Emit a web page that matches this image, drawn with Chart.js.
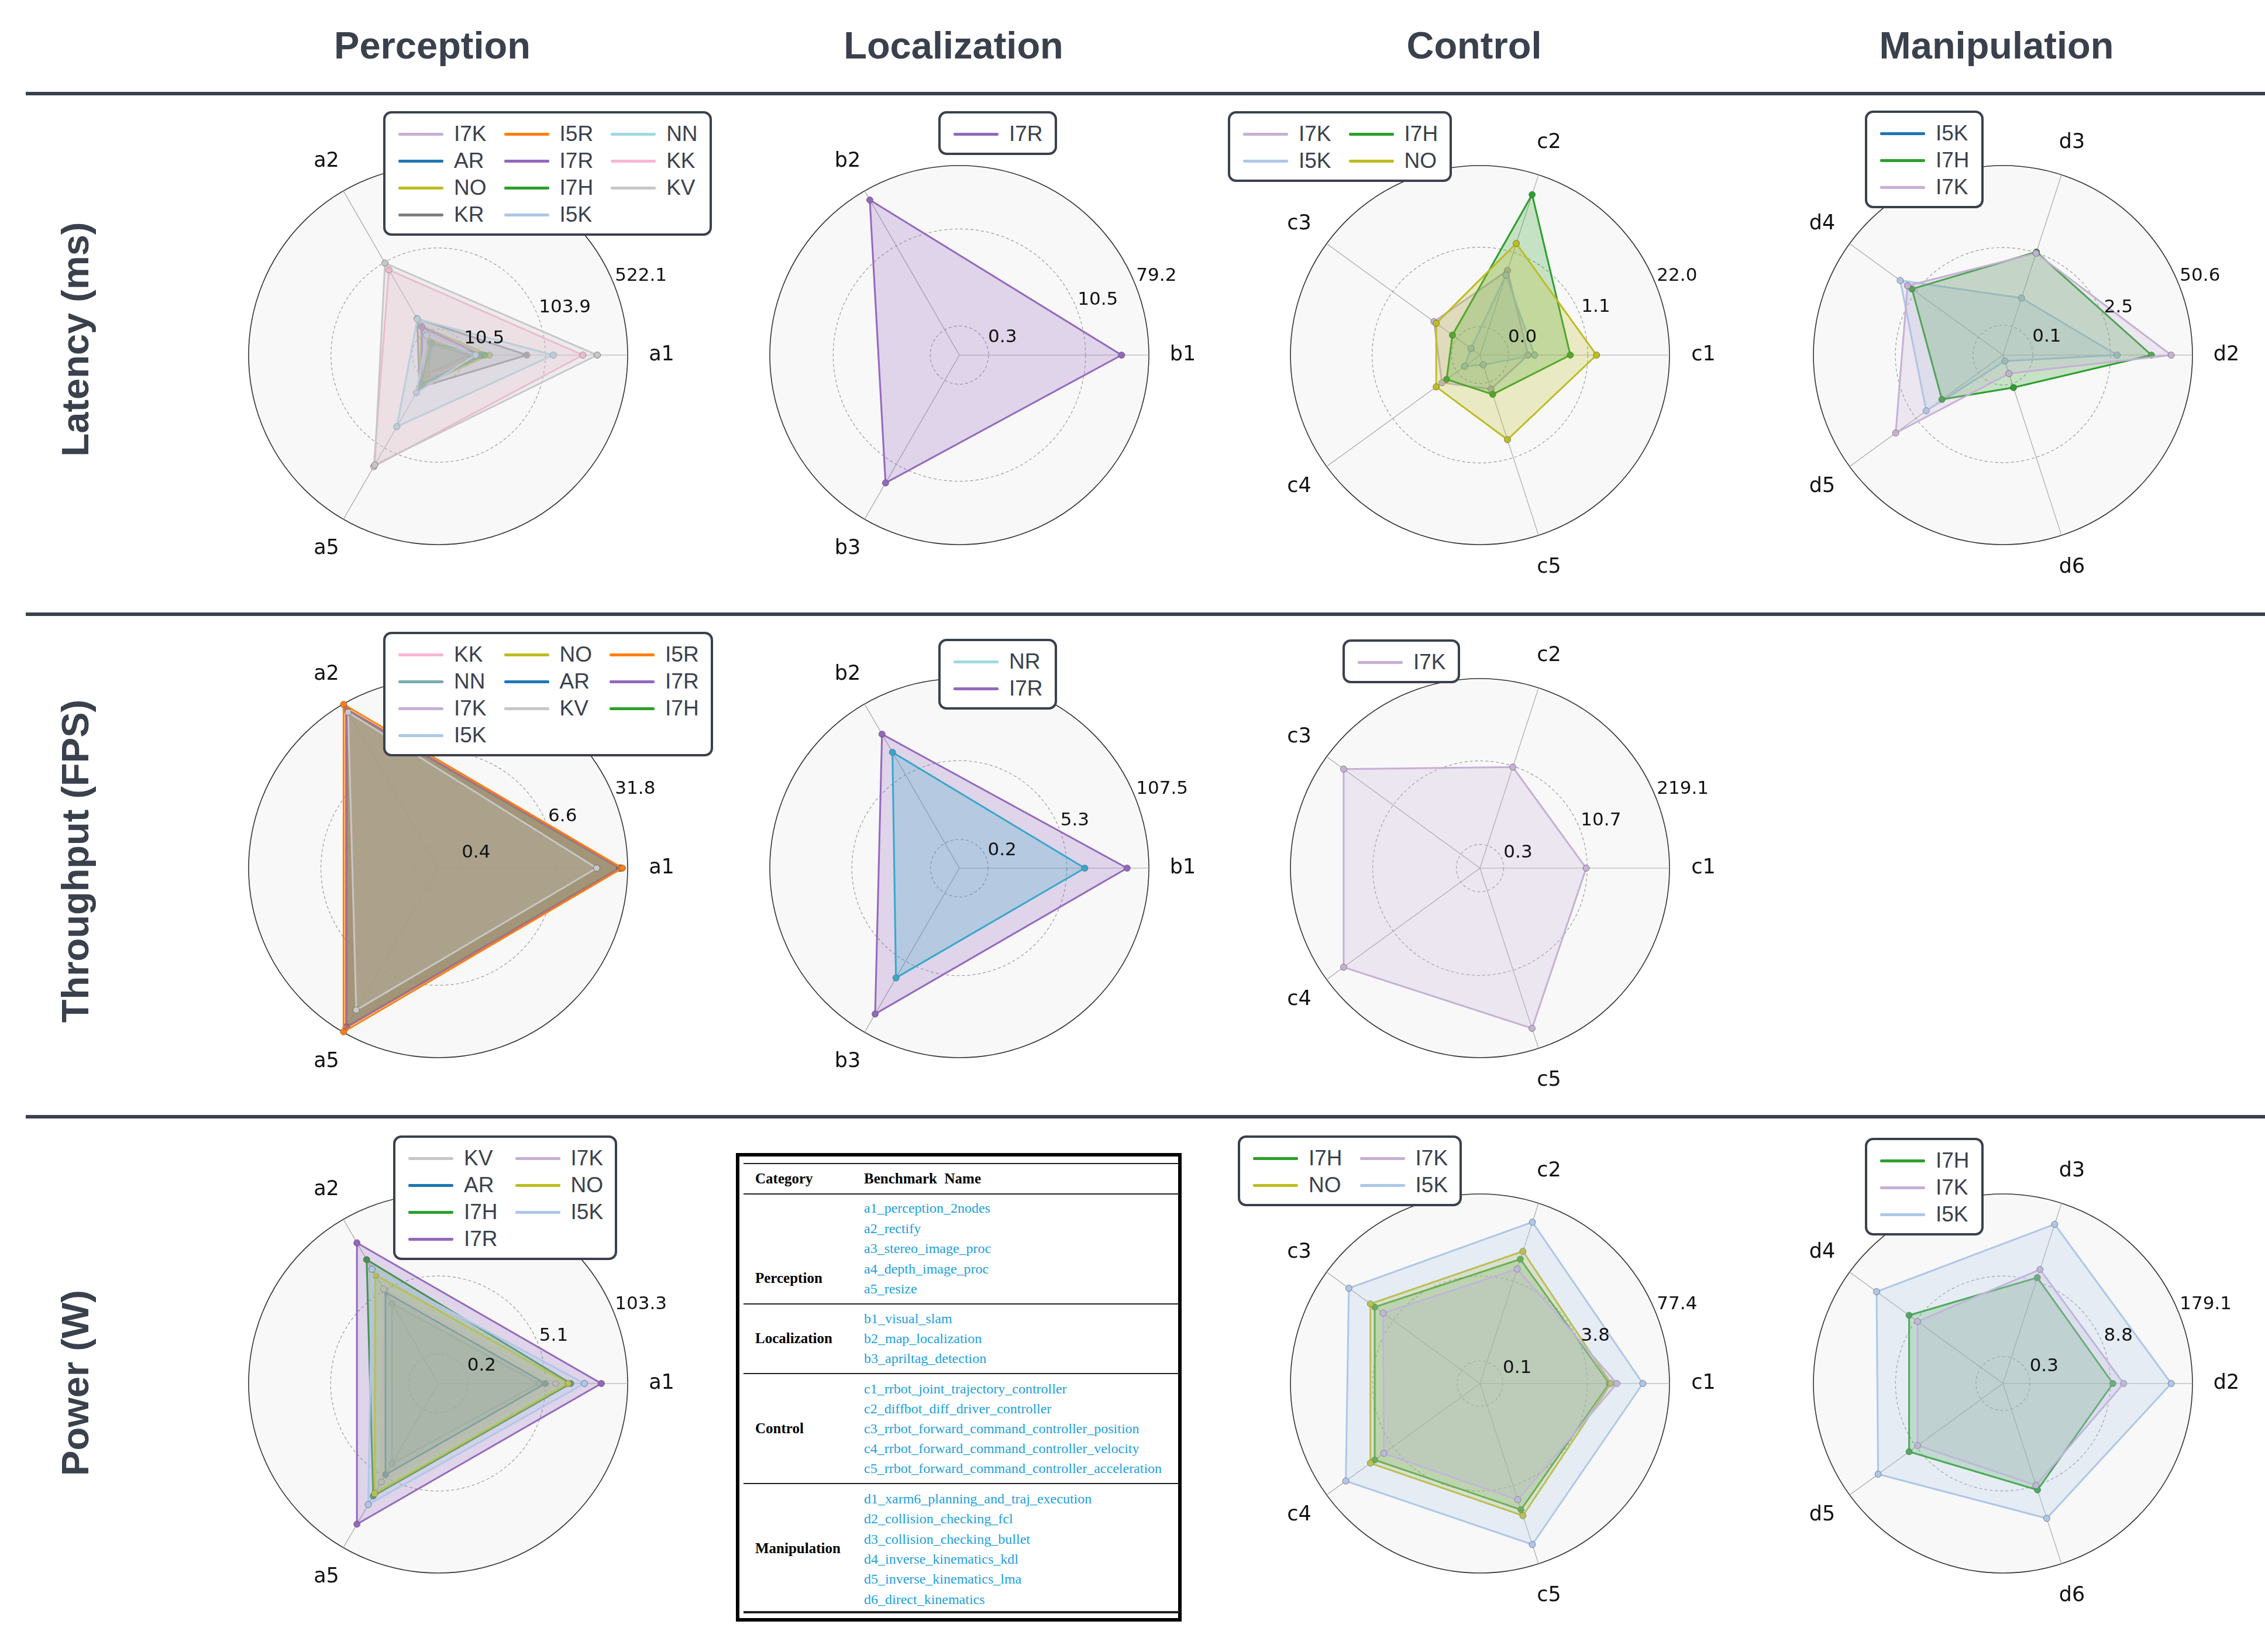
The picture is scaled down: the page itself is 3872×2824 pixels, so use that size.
<!DOCTYPE html>
<html>
<head>
<meta charset="utf-8">
<script src="https://cdn.jsdelivr.net/npm/chart.js@4.4.1/dist/chart.umd.min.js"></script>
<style>
  html, body { margin: 0; padding: 0; background: #fff; }
  #page { position: relative; width: 3872px; height: 2824px; overflow: hidden; background: #fff; }
  .colhead { position: absolute; top: 77px; transform: translate(-50%, -50%); font: bold 65px "Liberation Sans", Arial, sans-serif; color: #3a414d; white-space: nowrap; }
  .rowhead { position: absolute; left: 128px; transform: translate(-50%, -50%) rotate(-90deg); font: bold 65px "Liberation Sans", Arial, sans-serif; color: #3a414d; white-space: nowrap; }
  .rule { position: absolute; left: 44px; width: 3828px; height: 6px; background: #3a414d; }
  canvas.radar { position: absolute; }
  .legend { position: absolute; z-index: 5; background: #fff; border: 4px solid #3a414d; border-radius: 14px;
            padding: 12px 20px 9px 22px; display: flex; flex-direction: row; gap: 30px; align-items: flex-start; }
  .legend .lcol { display: flex; flex-direction: column; }
  .legend .item { display: flex; align-items: center; height: 46px; font: 37px "Liberation Sans", Arial, sans-serif; color: #3a414d; }
  .legend .swatch { width: 77px; height: 5px; border-radius: 2px; margin-right: 18px; }
  .tbl-box { position: absolute; left: 1258px; top: 1971px; width: 762px; height: 801px; border: 6px solid #000; box-sizing: border-box; }
  .tbl-rule { position: absolute; left: 1271px; width: 745px; background: #222; }
  .tbl-text { position: absolute; height: 34px; line-height: 34px; font-family: "Liberation Serif", "Times New Roman", serif; white-space: nowrap; }
  .tbl-head { font-weight: bold; font-size: 25px; color: #000; }
  .tbl-cat { font-weight: bold; font-size: 25px; color: #000; }
  .tbl-name { font-size: 24px; color: #1b9fe0; }
</style>
</head>
<body>
<div id="page"></div>
<script>
// ---------- benchmark axes ----------
const perceptionAxes   = ['a1', 'a2', 'a5'];
const localizationAxes = ['b1', 'b2', 'b3'];
const controlAxes      = ['c1', 'c2', 'c3', 'c4', 'c5'];
const manipulationAxes = ['d2', 'd3', 'd4', 'd5', 'd6'];

// ---------- Latency (ms) ----------
const latPerceptionSeries = ['I7K', 'AR', 'NO', 'KR', 'I5R', 'I7R', 'I7H', 'I5K', 'NN', 'KK', 'KV'];
const latPerceptionValues = [
  [14.7, 7.1, 12.9],
  [13.1, 4.4, 8.4],
  [26.7, 14.7, 16.0],
  [69.4, 19.9, 16.8],
  [19.0, 6.5, 8.9],
  [21.0, 13.9, 13.9],
  [23.0, 5.1, 15.0],
  [16.9, 8.9, 20.9],
  [123.0, 19.6, 60.4],
  [222.0, 86.0, 162.0],
  [294.0, 102.0, 156.0]
];
const latPerceptionTicks = [10.5, 103.9, 522.1];

const latLocalizationSeries = ['I7R'];
const latLocalizationValues = [[33.3, 56.9, 20.9]];
const latLocalizationTicks = [0.3, 10.5, 79.2];

const latControlSeries = ['I7K', 'I5K', 'I7H', 'NO'];
const latControlValues = [
  [0.105, 0.54, 0.153, 0.10, 0.059],
  [0.139, 0.45, 0.011, 0.022, 0.010],
  [0.57, 10.3, 0.054, 0.077, 0.077],
  [1.52, 1.57, 0.136, 0.136, 0.54]
];
const latControlTicks = [0.04, 1.1, 22.0];

const latManipulationSeries = ['I5K', 'I7H', 'I7K'];
const latManipulationValues = [
  [3.2, 0.40, 5.13, 1.55, 0.013],
  [11.3, 2.58, 3.0, 0.74, 0.125],
  [23.3, 2.46, 3.67, 6.3, 0.052]
];
const latManipulationTicks = [0.1, 2.5, 50.6];

// ---------- Throughput (FPS) ----------
const thrPerceptionSeries = ['KK', 'NN', 'I7K', 'I5K', 'NO', 'AR', 'KV', 'I5R', 'I7R', 'I7H'];
const thrPerceptionValues = [
  [26.8, 27.9, 28.0],
  [27.3, 28.4, 28.4],
  [26.6, 27.7, 27.8],
  [26.9, 28.0, 28.1],
  [27.0, 28.1, 28.2],
  [26.7, 27.8, 27.9],
  [16.4, 26.0, 18.4],
  [28.4, 31.5, 31.5],
  [27.1, 28.2, 28.3],
  [26.9, 28.0, 28.1]
];
const thrPerceptionTicks = [0.4, 6.6, 31.8];

const thrLocalizationSeries = ['NR', 'I7R'];
const thrLocalizationValues = [
  [10.3, 14.0, 10.8],
  [48.6, 30.1, 49.8]
];
const thrLocalizationTicks = [0.2, 5.3, 107.5];

const thrControlSeries = ['I7K'];
const thrControlValues = [[10.3, 10.3, 101.7, 101.7, 101.7]];
const thrControlTicks = [0.3, 10.7, 219.1];

// ---------- Power (W) ----------
const powPerceptionSeries = ['KV', 'AR', 'I7H', 'I7R', 'I7K', 'NO', 'I5K'];
const powPerceptionValues = [
  [3.98, 2.9, 2.9],
  [5.05, 4.7, 4.7],
  [12.9, 18.9, 11.7],
  [39.5, 38.4, 38.4],
  [7.4, 5.4, 6.4],
  [11.7, 9.9, 10.5],
  [21.3, 12.6, 16.8]
];
const powPerceptionTicks = [0.2, 5.1, 103.3];

const powControlSeries = ['I7H', 'NO', 'I7K', 'I5K'];
const powControlValues = [
  [8.5, 9.0, 8.8, 8.8, 9.7],
  [9.1, 12.2, 10.7, 10.7, 12.2],
  [11.3, 6.15, 6.0, 5.8, 6.6],
  [29.2, 37.5, 28.4, 32.6, 37.0]
];
const powControlTicks = [0.1, 3.8, 77.4];

const powManipulationSeries = ['I7H', 'I7K', 'I5K'];
const powManipulationValues = [
  [9.7, 10.2, 12.1, 12.1, 10.4],
  [14.4, 14.0, 8.2, 8.2, 8.7],
  [82.5, 79.7, 53.0, 49.4, 31.3]
];
const powManipulationTicks = [0.3, 8.8, 179.1];

// ---------- styling ----------
const seriesColors = {
  I7K: '#c5b0d5', AR: '#1f77b4', NO: '#bcbd22', KR: '#7f7f7f', I5R: '#ff7f0e', I7R: '#9467bd',
  I7H: '#2ca02c', I5K: '#aec7e8', NN: '#9edae5', KK: '#f7b6d2', KV: '#c7c7c7', NR: '#17becf'
};

const COL_X = [749, 1640, 2530, 3424];
const ROW_Y = [607, 1484, 2365];
const RADIUS = 324;
const MARGIN = 150;

const panels = [
  { axes: perceptionAxes, names: latPerceptionSeries, values: latPerceptionValues, ticks: latPerceptionTicks, spread: 30, row: 0, col: 0, legend: [655, 190, 3] },
  { axes: localizationAxes, names: latLocalizationSeries, values: latLocalizationValues, ticks: latLocalizationTicks, spread: 400, row: 0, col: 1, legend: [1604, 190, 1] },
  { axes: controlAxes, names: latControlSeries, values: latControlValues, ticks: latControlTicks, spread: 1000, row: 0, col: 2, legend: [2099, 190, 2] },
  { axes: manipulationAxes, names: latManipulationSeries, values: latManipulationValues, ticks: latManipulationTicks, spread: 1000, row: 0, col: 3, legend: [3188, 189, 1], legendColors: { I5K: '#1f77b4' } },
  { axes: perceptionAxes, names: thrPerceptionSeries, values: thrPerceptionValues, ticks: thrPerceptionTicks, spread: 50, row: 1, col: 0, legend: [655, 1080, 3], colors: { NN: '#7aacae' },
    drawOrder: ['KK', 'NN', 'I7K', 'I5K', 'NO', 'AR', 'I7H', 'I7R', 'I5R', 'KV'] },
  { axes: localizationAxes, names: thrLocalizationSeries, values: thrLocalizationValues, ticks: thrLocalizationTicks, spread: 1000, row: 1, col: 1, legend: [1604, 1092, 1], legendColors: { NR: '#9edae5' } },
  { axes: controlAxes, names: thrControlSeries, values: thrControlValues, ticks: thrControlTicks, spread: 1000, row: 1, col: 2, legend: [2295, 1093, 1] },
  { axes: perceptionAxes, names: powPerceptionSeries, values: powPerceptionValues, ticks: powPerceptionTicks, spread: 1000, row: 2, col: 0, legend: [672, 1941, 2] },
  { axes: controlAxes, names: powControlSeries, values: powControlValues, ticks: powControlTicks, spread: 1000, row: 2, col: 2, legend: [2116, 1941, 2] },
  { axes: manipulationAxes, names: powManipulationSeries, values: powManipulationValues, ticks: powManipulationTicks, spread: 1000, row: 2, col: 3, legend: [3188, 1945, 1] }
];

const page = document.getElementById('page');

function addEl(cls, text, style) {
  const el = document.createElement('div');
  el.className = cls;
  if (text !== null) el.textContent = text;
  Object.assign(el.style, style);
  page.appendChild(el);
  return el;
}

function rgba(hex, a) {
  const n = parseInt(hex.slice(1), 16);
  return `rgba(${(n >> 16) & 255}, ${(n >> 8) & 255}, ${n & 255}, ${a})`;
}

// compressed radial mapping: 0 at the centre, 1 at the outermost tick
function makeRadial(vmax, spread) {
  const c = vmax / spread;
  const full = Math.log1p(spread);
  return v => Math.log1p(v / c) / full;
}

// first axis to the east, the rest counter-clockwise
function ccwOrder(n) {
  const idx = [0];
  for (let i = n - 1; i >= 1; i--) idx.push(i);
  return idx;
}

// split legend entries into columns, larger columns first
function splitColumns(names, ncol) {
  const base = Math.floor(names.length / ncol), extra = names.length % ncol;
  const cols = [];
  let k = 0;
  for (let c = 0; c < ncol; c++) {
    const len = base + (c < extra ? 1 : 0);
    cols.push(names.slice(k, k + len));
    k += len;
  }
  return cols;
}

function polarDecor(tickValues, radial) {
  return {
    id: 'polarDecor',
    beforeDraw(chart) {
      const s = chart.scales.r, ctx = chart.ctx;
      ctx.save();
      ctx.beginPath();
      ctx.arc(s.xCenter, s.yCenter, s.drawingArea, 0, Math.PI * 2);
      ctx.fillStyle = '#f8f8f8';
      ctx.fill();
      ctx.restore();
    },
    afterDraw(chart) {
      const s = chart.scales.r, ctx = chart.ctx;
      ctx.save();
      ctx.fillStyle = '#111';
      ctx.font = '35px "DejaVu Sans"';
      ctx.textAlign = 'center';
      ctx.textBaseline = 'middle';
      chart.data.labels.forEach((lab, i) => {
        const p = s.getPointPosition(i, s.drawingArea + 58);
        ctx.fillText(lab, p.x, p.y);
      });
      ctx.font = '31px "DejaVu Sans"';
      ctx.textAlign = 'left';
      ctx.textBaseline = 'alphabetic';
      const a = 22.5 * Math.PI / 180;
      tickValues.forEach(t => {
        const d = s.getDistanceFromCenterForValue(radial(t));
        ctx.fillText(t.toFixed(1), s.xCenter + d * Math.cos(a) + 3, s.yCenter - d * Math.sin(a) - 3);
      });
      ctx.restore();
    }
  };
}

function buildPanel(p) {
  const cx = COL_X[p.col], cy = ROW_Y[p.row];
  const size = 2 * (RADIUS + MARGIN);
  const canvas = document.createElement('canvas');
  canvas.className = 'radar';
  canvas.width = size; canvas.height = size;
  canvas.style.left = (cx - size / 2) + 'px';
  canvas.style.top = (cy - size / 2) + 'px';
  canvas.style.width = size + 'px';
  canvas.style.height = size + 'px';
  page.appendChild(canvas);

  const vmax = p.ticks[p.ticks.length - 1];
  const radial = makeRadial(vmax, p.spread);
  const order = ccwOrder(p.axes.length);
  const stack = p.drawOrder || p.names;
  const n = p.names.length;
  const colorOf = name => (p.colors && p.colors[name]) || seriesColors[name];

  const datasets = p.names.map((name, i) => {
    const col = colorOf(name);
    return {
      label: name,
      data: order.map(j => radial(p.values[i][j])),
      borderColor: col,
      backgroundColor: rgba(col, 0.25),
      borderWidth: 3,
      fill: true,
      pointRadius: 5.5,
      pointBackgroundColor: col,
      pointBorderColor: 'rgba(60, 60, 60, 0.55)',
      pointBorderWidth: 1,
      order: n - 1 - stack.indexOf(name)
    };
  });

  const ringValues = [0].concat(p.ticks.map(radial));
  const last = ringValues.length - 1;

  new Chart(canvas, {
    type: 'radar',
    data: { labels: order.map(j => p.axes[j]), datasets },
    options: {
      responsive: false,
      animation: false,
      devicePixelRatio: 1,
      layout: { padding: MARGIN },
      elements: { line: { tension: 0 } },
      plugins: { legend: { display: false }, tooltip: { enabled: false } },
      scales: {
        r: {
          min: 0, max: 1,
          startAngle: 90,
          afterBuildTicks: s => { s.ticks = ringValues.map(v => ({ value: v })); },
          ticks: { display: false },
          pointLabels: { display: false },
          grid: {
            circular: true,
            color: c => c.index === last ? '#333333' : '#9a9a9a',
            lineWidth: c => c.index === last ? 1.6 : 1.2
          },
          border: { dash: c => c.index === last ? [] : [5, 4] },
          angleLines: { color: '#a8a8a8', lineWidth: 1.2 }
        }
      }
    },
    plugins: [polarDecor(p.ticks, radial)]
  });

  // legend box
  const [lx, ly, ncol] = p.legend;
  const box = addEl('legend', null, { left: lx + 'px', top: ly + 'px' });
  splitColumns(p.names, ncol).forEach(colNames => {
    const colEl = document.createElement('div');
    colEl.className = 'lcol';
    colNames.forEach(name => {
      const item = document.createElement('div');
      item.className = 'item';
      const sw = document.createElement('span');
      sw.className = 'swatch';
      sw.style.background = (p.legendColors && p.legendColors[name]) || colorOf(name);
      const tx = document.createElement('span');
      tx.textContent = name;
      item.appendChild(sw); item.appendChild(tx);
      colEl.appendChild(item);
    });
    box.appendChild(colEl);
  });
}

// headings and separators
const columnTitles = ['Perception', 'Localization', 'Control', 'Manipulation'];
const rowTitles = ['Latency (ms)', 'Throughput (FPS)', 'Power (W)'];
const titleX = [739, 1630, 2520, 3413];
const rowTitleY = [580, 1472, 2364];
columnTitles.forEach((t, i) => addEl('colhead', t, { left: titleX[i] + 'px' }));
rowTitles.forEach((t, i) => addEl('rowhead', t, { top: rowTitleY[i] + 'px' }));
[157, 1047, 1906].forEach(y => addEl('rule', null, { top: y + 'px' }));

panels.forEach(buildPanel);

// benchmark name table
const tableGroups = [
  { name: 'Perception', labelY: 2185, rowsY: [2065, 2100, 2134, 2169, 2203],
    items: ['a1_perception_2nodes', 'a2_rectify', 'a3_stereo_image_proc', 'a4_depth_image_proc', 'a5_resize'] },
  { name: 'Localization', labelY: 2288, rowsY: [2254, 2288, 2322],
    items: ['b1_visual_slam', 'b2_map_localization', 'b3_apriltag_detection'] },
  { name: 'Control', labelY: 2442, rowsY: [2374, 2408, 2442, 2476, 2510],
    items: ['c1_rrbot_joint_trajectory_controller', 'c2_diffbot_diff_driver_controller', 'c3_rrbot_forward_command_controller_position',
            'c4_rrbot_forward_command_controller_velocity', 'c5_rrbot_forward_command_controller_acceleration'] },
  { name: 'Manipulation', labelY: 2647, rowsY: [2562, 2596, 2631, 2665, 2699, 2734],
    items: ['d1_xarm6_planning_and_traj_execution', 'd2_collision_checking_fcl', 'd3_collision_checking_bullet',
            'd4_inverse_kinematics_kdl', 'd5_inverse_kinematics_lma', 'd6_direct_kinematics'] }
];
addEl('tbl-box', null, {});
[[1988, 2], [2040, 2], [2228, 2], [2347, 2], [2535, 2], [2754, 4]].forEach(([y, h]) =>
  addEl('tbl-rule', null, { top: y + 'px', height: h + 'px' }));
addEl('tbl-text tbl-head', 'Category', { left: '1291px', top: (2015 - 17) + 'px' });
addEl('tbl-text tbl-head', 'Benchmark\u00a0\u00a0Name', { left: '1477px', top: (2015 - 17) + 'px' });
tableGroups.forEach(g => {
  addEl('tbl-text tbl-cat', g.name, { left: '1291px', top: (g.labelY - 17) + 'px' });
  g.items.forEach((it, i) => addEl('tbl-text tbl-name', it, { left: '1477px', top: (g.rowsY[i] - 17) + 'px' }));
});
</script>
</body>
</html>
